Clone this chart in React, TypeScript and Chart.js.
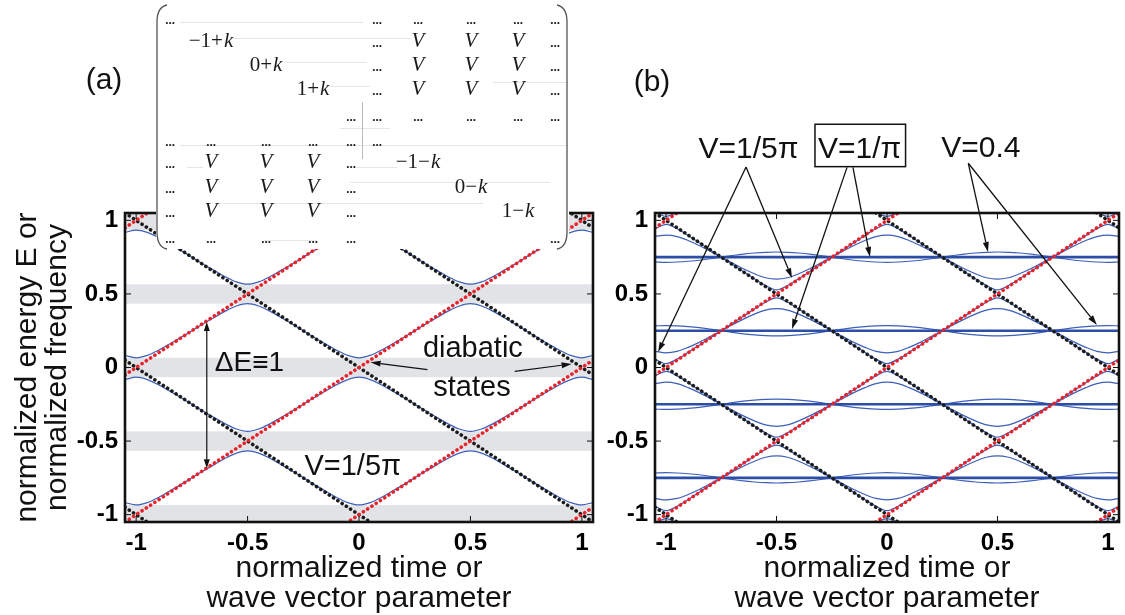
import React, { useEffect, useRef } from 'react';
import { Chart, registerables } from 'chart.js';

Chart.register(...registerables);

// ---------------- data ----------------
const kGrid = [-1.05, -1.0, -0.95, -0.9, -0.85, -0.8, -0.75, -0.7, -0.65, -0.6, -0.55, -0.5, -0.45, -0.4, -0.35, -0.3, -0.25, -0.2, -0.15, -0.1, -0.05, 0, 0.05, 0.1, 0.15, 0.2, 0.25, 0.3, 0.35, 0.4, 0.45, 0.5, 0.55, 0.6, 0.65, 0.7, 0.75, 0.8, 0.85, 0.9, 0.95, 1.0, 1.05];

// panel (a): adiabatic bands, V = 1/5pi
const bandA1 = [0.082, 0.066, 0.082, 0.117, 0.160, 0.204, 0.250, 0.296, 0.340, 0.383, 0.418, 0.434, 0.418, 0.383, 0.340, 0.296, 0.250, 0.204, 0.160, 0.117, 0.082, 0.066, 0.082, 0.117, 0.160, 0.204, 0.250, 0.296, 0.340, 0.383, 0.418, 0.434, 0.418, 0.383, 0.340, 0.296, 0.250, 0.204, 0.160, 0.117, 0.082, 0.066, 0.082];
const bandA2 = [0.918, 0.934, 0.918, 0.883, 0.840, 0.796, 0.750, 0.704, 0.660, 0.617, 0.582, 0.566, 0.582, 0.617, 0.660, 0.704, 0.750, 0.796, 0.840, 0.883, 0.918, 0.934, 0.918, 0.883, 0.840, 0.796, 0.750, 0.704, 0.660, 0.617, 0.582, 0.566, 0.582, 0.617, 0.660, 0.704, 0.750, 0.796, 0.840, 0.883, 0.918, 0.934, 0.918];
const bandA3 = [-0.082, -0.066, -0.082, -0.117, -0.160, -0.204, -0.250, -0.296, -0.340, -0.383, -0.418, -0.434, -0.418, -0.383, -0.340, -0.296, -0.250, -0.204, -0.160, -0.117, -0.082, -0.066, -0.082, -0.117, -0.160, -0.204, -0.250, -0.296, -0.340, -0.383, -0.418, -0.434, -0.418, -0.383, -0.340, -0.296, -0.250, -0.204, -0.160, -0.117, -0.082, -0.066, -0.082];
const bandA4 = [-0.918, -0.934, -0.918, -0.883, -0.840, -0.796, -0.750, -0.704, -0.660, -0.617, -0.582, -0.566, -0.582, -0.617, -0.660, -0.704, -0.750, -0.796, -0.840, -0.883, -0.918, -0.934, -0.918, -0.883, -0.840, -0.796, -0.750, -0.704, -0.660, -0.617, -0.582, -0.566, -0.582, -0.617, -0.660, -0.704, -0.750, -0.796, -0.840, -0.883, -0.918, -0.934, -0.918];
const gapBandsA = [[0.934, 1.05], [0.434, 0.566], [-0.066, 0.066], [-0.566, -0.434], [-1.05, -0.934]];

// panel (b): outer bands
const outerB1 = [0.110, 0.100, 0.110, 0.137, 0.171, 0.210, 0.250, 0.290, 0.329, 0.363, 0.390, 0.400, 0.390, 0.363, 0.329, 0.290, 0.250, 0.210, 0.171, 0.137, 0.110, 0.100, 0.110, 0.137, 0.171, 0.210, 0.250, 0.290, 0.329, 0.363, 0.390, 0.400, 0.390, 0.363, 0.329, 0.290, 0.250, 0.210, 0.171, 0.137, 0.110, 0.100, 0.110];
const outerB2 = [0.890, 0.900, 0.890, 0.863, 0.829, 0.790, 0.750, 0.710, 0.671, 0.637, 0.610, 0.600, 0.610, 0.637, 0.671, 0.710, 0.750, 0.790, 0.829, 0.863, 0.890, 0.900, 0.890, 0.863, 0.829, 0.790, 0.750, 0.710, 0.671, 0.637, 0.610, 0.600, 0.610, 0.637, 0.671, 0.710, 0.750, 0.790, 0.829, 0.863, 0.890, 0.900, 0.890];
const outerB3 = [-0.110, -0.100, -0.110, -0.137, -0.171, -0.210, -0.250, -0.290, -0.329, -0.363, -0.390, -0.400, -0.390, -0.363, -0.329, -0.290, -0.250, -0.210, -0.171, -0.137, -0.110, -0.100, -0.110, -0.137, -0.171, -0.210, -0.250, -0.290, -0.329, -0.363, -0.390, -0.400, -0.390, -0.363, -0.329, -0.290, -0.250, -0.210, -0.171, -0.137, -0.110, -0.100, -0.110];
const outerB4 = [-0.890, -0.900, -0.890, -0.863, -0.829, -0.790, -0.750, -0.710, -0.671, -0.637, -0.610, -0.600, -0.610, -0.637, -0.671, -0.710, -0.750, -0.790, -0.829, -0.863, -0.890, -0.900, -0.890, -0.863, -0.829, -0.790, -0.750, -0.710, -0.671, -0.637, -0.610, -0.600, -0.610, -0.637, -0.671, -0.710, -0.750, -0.790, -0.829, -0.863, -0.890, -0.900, -0.890];
// panel (b): inner bands
const innerB1 = [0.057, 0.027, 0.057, 0.103, 0.152, 0.201, 0.250, 0.299, 0.348, 0.397, 0.443, 0.473, 0.443, 0.397, 0.348, 0.299, 0.250, 0.201, 0.152, 0.103, 0.057, 0.027, 0.057, 0.103, 0.152, 0.201, 0.250, 0.299, 0.348, 0.397, 0.443, 0.473, 0.443, 0.397, 0.348, 0.299, 0.250, 0.201, 0.152, 0.103, 0.057, 0.027, 0.057];
const innerB2 = [0.943, 0.973, 0.943, 0.897, 0.848, 0.799, 0.750, 0.701, 0.652, 0.603, 0.557, 0.527, 0.557, 0.603, 0.652, 0.701, 0.750, 0.799, 0.848, 0.897, 0.943, 0.973, 0.943, 0.897, 0.848, 0.799, 0.750, 0.701, 0.652, 0.603, 0.557, 0.527, 0.557, 0.603, 0.652, 0.701, 0.750, 0.799, 0.848, 0.897, 0.943, 0.973, 0.943];
const innerB3 = [-0.057, -0.027, -0.057, -0.103, -0.152, -0.201, -0.250, -0.299, -0.348, -0.397, -0.443, -0.473, -0.443, -0.397, -0.348, -0.299, -0.250, -0.201, -0.152, -0.103, -0.057, -0.027, -0.057, -0.103, -0.152, -0.201, -0.250, -0.299, -0.348, -0.397, -0.443, -0.473, -0.443, -0.397, -0.348, -0.299, -0.250, -0.201, -0.152, -0.103, -0.057, -0.027, -0.057];
const innerB4 = [-0.943, -0.973, -0.943, -0.897, -0.848, -0.799, -0.750, -0.701, -0.652, -0.603, -0.557, -0.527, -0.557, -0.603, -0.652, -0.701, -0.750, -0.799, -0.848, -0.897, -0.943, -0.973, -0.943, -0.897, -0.848, -0.799, -0.750, -0.701, -0.652, -0.603, -0.557, -0.527, -0.557, -0.603, -0.652, -0.701, -0.750, -0.799, -0.848, -0.897, -0.943, -0.973, -0.943];
const innerB5 = [1.057, 1.027, 1.057, 1.103, 1.152, 1.201, 1.250, 1.299, 1.348, 1.397, 1.443, 1.473, 1.443, 1.397, 1.348, 1.299, 1.250, 1.201, 1.152, 1.103, 1.057, 1.027, 1.057, 1.103, 1.152, 1.201, 1.250, 1.299, 1.348, 1.397, 1.443, 1.473, 1.443, 1.397, 1.348, 1.299, 1.250, 1.201, 1.152, 1.103, 1.057, 1.027, 1.057];
const innerB6 = [-1.057, -1.027, -1.057, -1.103, -1.152, -1.201, -1.250, -1.299, -1.348, -1.397, -1.443, -1.473, -1.443, -1.397, -1.348, -1.299, -1.250, -1.201, -1.152, -1.103, -1.057, -1.027, -1.057, -1.103, -1.152, -1.201, -1.250, -1.299, -1.348, -1.397, -1.443, -1.473, -1.443, -1.397, -1.348, -1.299, -1.250, -1.201, -1.152, -1.103, -1.057, -1.027, -1.057];
// panel (b): wavy curves, V = 0.4
const wavyB1 = [0.717, 0.715, 0.717, 0.722, 0.729, 0.739, 0.750, 0.761, 0.771, 0.778, 0.783, 0.785, 0.783, 0.778, 0.771, 0.761, 0.750, 0.739, 0.729, 0.722, 0.717, 0.715, 0.717, 0.722, 0.729, 0.739, 0.750, 0.761, 0.771, 0.778, 0.783, 0.785, 0.783, 0.778, 0.771, 0.761, 0.750, 0.739, 0.729, 0.722, 0.717, 0.715, 0.717];
const wavyB2 = [0.283, 0.285, 0.283, 0.278, 0.271, 0.261, 0.250, 0.239, 0.229, 0.222, 0.217, 0.215, 0.217, 0.222, 0.229, 0.239, 0.250, 0.261, 0.271, 0.278, 0.283, 0.285, 0.283, 0.278, 0.271, 0.261, 0.250, 0.239, 0.229, 0.222, 0.217, 0.215, 0.217, 0.222, 0.229, 0.239, 0.250, 0.261, 0.271, 0.278, 0.283, 0.285, 0.283];
const wavyB3 = [-0.283, -0.285, -0.283, -0.278, -0.271, -0.261, -0.250, -0.239, -0.229, -0.222, -0.217, -0.215, -0.217, -0.222, -0.229, -0.239, -0.250, -0.261, -0.271, -0.278, -0.283, -0.285, -0.283, -0.278, -0.271, -0.261, -0.250, -0.239, -0.229, -0.222, -0.217, -0.215, -0.217, -0.222, -0.229, -0.239, -0.250, -0.261, -0.271, -0.278, -0.283, -0.285, -0.283];
const wavyB4 = [-0.717, -0.715, -0.717, -0.722, -0.729, -0.739, -0.750, -0.761, -0.771, -0.778, -0.783, -0.785, -0.783, -0.778, -0.771, -0.761, -0.750, -0.739, -0.729, -0.722, -0.717, -0.715, -0.717, -0.722, -0.729, -0.739, -0.750, -0.761, -0.771, -0.778, -0.783, -0.785, -0.783, -0.778, -0.771, -0.761, -0.750, -0.739, -0.729, -0.722, -0.717, -0.715, -0.717];
// panel (b): flat bands, V = 1/pi
const flatLevels = [0.75, 0.25, -0.25, -0.75];

// diabatic states (straight lines), energies at k = -1.05 and k = 1.05
const diabaticEnds = [-1.05, 1.05];
const redLines = [[-3.05, -0.95], [-2.05, 0.05], [-1.05, 1.05], [-0.05, 2.05], [0.95, 3.05]];
const blackLines = [[-0.95, -3.05], [0.05, -2.05], [1.05, -1.05], [2.05, -0.05], [3.05, 0.95]];

// axes
const xTicks = [-1, -0.5, 0, 0.5, 1];
const xTickLabels = ['-1', '-0.5', '0', '0.5', '1'];
const yTicks = [-1, -0.5, 0, 0.5, 1];
const yTickLabels = ['-1', '-0.5', '0', '0.5', '1'];
const xTitleLines = ['normalized time or', 'wave vector parameter'];
const yTitleLines = ['normalized energy E or', 'normalized frequency'];

// ---------------- styling ----------------
const SANS = '"Liberation Sans", Arial, Helvetica, sans-serif';
const SERIF = '"Liberation Serif", "Times New Roman", serif';
const BLUE_THIN = '#3d5fb8';
const BLUE_THICK = '#2c4ea6';
const RED = '#e8232b';
const BLACK_DOT = '#1c1c1c';
const GAP_GRAY = '#e2e3e6';
const INK = '#111';

const pts = (ys: number[]) => kGrid.map((k, i) => ({ x: k, y: ys[i] }));
const endPts = (e: number[]) => diabaticEnds.map((k, i) => ({ x: k, y: e[i] }));

function dottedSet(e: number[], color: string) {
  return { data: endPts(e), borderColor: color, borderWidth: 3.6, borderDash: [0.1, 5.0], borderCapStyle: 'round', pointRadius: 0, clip: 0 };
}
function thinSet(ys: number[]) {
  return { data: pts(ys), borderColor: BLUE_THIN, borderWidth: 1.2, pointRadius: 0, cubicInterpolationMode: 'monotone', clip: 0 };
}
function flatSet(level: number) {
  return { data: diabaticEnds.map((k) => ({ x: k, y: level })), borderColor: BLUE_THICK, borderWidth: 2.6, pointRadius: 0, clip: 0 };
}

function arrowTo(ctx: any, x1: number, y1: number, x2: number, y2: number, head = 10, half = 3) {
  const ang = Math.atan2(y2 - y1, x2 - x1);
  const bx = x2 - head * Math.cos(ang);
  const by = y2 - head * Math.sin(ang);
  ctx.beginPath(); ctx.moveTo(x1, y1); ctx.lineTo(bx, by); ctx.stroke();
  ctx.beginPath(); ctx.moveTo(x2, y2);
  ctx.lineTo(bx + half * Math.sin(ang), by - half * Math.cos(ang));
  ctx.lineTo(bx - half * Math.sin(ang), by + half * Math.cos(ang));
  ctx.closePath(); ctx.fill();
}

function drawFrame(chart: any) {
  const { ctx, chartArea: a, scales } = chart;
  const x = scales.x, y = scales.y;
  ctx.save();
  ctx.strokeStyle = INK;
  ctx.lineWidth = 1;
  const seg = (x1: number, y1: number, x2: number, y2: number) => { ctx.beginPath(); ctx.moveTo(x1, y1); ctx.lineTo(x2, y2); ctx.stroke(); };
  for (const v of xTicks) {
    const p = x.getPixelForValue(v);
    seg(p, a.bottom, p, a.bottom - 6);
    seg(p, a.top, p, a.top + 6);
  }
  for (const v of yTicks) {
    const p = y.getPixelForValue(v);
    seg(a.left, p, a.left + 6, p);
    seg(a.right, p, a.right - 6, p);
  }
  ctx.lineWidth = 2.6;
  ctx.strokeRect(a.left, a.top, a.right - a.left, a.bottom - a.top);
  ctx.restore();
}

// ---------------- inset matrix (panel a) ----------------
const insetRowsY = [24, 47, 71, 95, 121, 146, 168, 193, 217, 243];
const insetColsX = [170, 211, 266, 313, 351, 377, 418, 471, 518, 555];
const D = '…';
const insetCells: [number, number, string][] = [
  [0, 0, D], [0, 5, D], [0, 6, D], [0, 7, D], [0, 8, D], [0, 9, D],
  [1, 1, '−1+k'], [1, 5, D], [1, 6, 'V'], [1, 7, 'V'], [1, 8, 'V'], [1, 9, D],
  [2, 2, '0+k'], [2, 5, D], [2, 6, 'V'], [2, 7, 'V'], [2, 8, 'V'], [2, 9, D],
  [3, 3, '1+k'], [3, 5, D], [3, 6, 'V'], [3, 7, 'V'], [3, 8, 'V'], [3, 9, D],
  [4, 4, D], [4, 5, D], [4, 6, D], [4, 7, D], [4, 8, D], [4, 9, D],
  [5, 0, D], [5, 1, D], [5, 2, D], [5, 3, D], [5, 4, D], [5, 5, D],
  [6, 0, D], [6, 1, 'V'], [6, 2, 'V'], [6, 3, 'V'], [6, 4, D], [6, 6, '−1−k'],
  [7, 0, D], [7, 1, 'V'], [7, 2, 'V'], [7, 3, 'V'], [7, 4, D], [7, 7, '0−k'],
  [8, 0, D], [8, 1, 'V'], [8, 2, 'V'], [8, 3, 'V'], [8, 4, D], [8, 8, '1−k'],
  [9, 0, D], [9, 1, D], [9, 2, D], [9, 3, D], [9, 4, D], [9, 9, D],
];
const insetRules = [[180, 363, 22], [233, 410, 38], [283, 367, 62], [493, 568, 82], [330, 370, 86], [340, 390, 128], [180, 566, 145], [187, 203, 167], [357, 397, 167], [350, 550, 182], [217, 483, 203], [263, 317, 240]];

function drawInset(ctx: any) {
  ctx.save();
  ctx.fillStyle = '#fff';
  ctx.fillRect(156, 0, 413, 249);
  ctx.strokeStyle = '#e6e6e6';
  ctx.lineWidth = 1;
  for (const [x1, x2, yy] of insetRules) {
    ctx.beginPath(); ctx.moveTo(x1, yy + 0.5); ctx.lineTo(x2, yy + 0.5); ctx.stroke();
  }
  ctx.strokeStyle = '#bbb';
  ctx.beginPath(); ctx.moveTo(362.5, 102); ctx.lineTo(362.5, 159); ctx.stroke();
  ctx.strokeStyle = '#555';
  ctx.lineWidth = 1.3;
  ctx.beginPath();
  ctx.moveTo(167, 5); ctx.quadraticCurveTo(157, 7, 157, 22); ctx.lineTo(157, 232); ctx.quadraticCurveTo(157, 247, 167, 249);
  ctx.stroke();
  ctx.beginPath();
  ctx.moveTo(557, 5); ctx.quadraticCurveTo(567, 7, 567, 22); ctx.lineTo(567, 232); ctx.quadraticCurveTo(567, 247, 557, 249);
  ctx.stroke();
  ctx.fillStyle = '#1a1a1a';
  ctx.textBaseline = 'alphabetic';
  for (const [r, c, t] of insetCells) {
    const cx = insetColsX[c];
    const by = insetRowsY[r];
    if (t === D) {
      ctx.font = `bold 13px ${SERIF}`;
      ctx.textAlign = 'center';
      ctx.fillText('...', cx, by);
    } else if (t === 'V') {
      ctx.font = `italic 21px ${SERIF}`;
      ctx.textAlign = 'center';
      ctx.fillText('V', cx, by);
    } else {
      const pre = t.slice(0, -1);
      ctx.font = `21px ${SERIF}`;
      const w1 = ctx.measureText(pre).width;
      ctx.font = `italic 21px ${SERIF}`;
      const w2 = ctx.measureText('k').width;
      const x0 = cx - (w1 + w2 + 1) / 2;
      ctx.textAlign = 'left';
      ctx.font = `21px ${SERIF}`;
      ctx.fillText(pre, x0, by);
      ctx.font = `italic 21px ${SERIF}`;
      ctx.fillText('k', x0 + w1 + 1, by);
    }
  }
  ctx.restore();
}

// ---------------- scales ----------------
function tickCb(ticks: number[], labels: string[]) {
  return (value: any) => {
    const i = ticks.indexOf(Number(value));
    return i >= 0 ? labels[i] : '';
  };
}

function makeScales(yWidth: number, withYTitle: boolean) {
  const tickFont = { family: SANS, size: 24, weight: 'bold' };
  return {
    x: {
      type: 'linear', min: -1.05, max: 1.05,
      afterBuildTicks: (s: any) => { s.ticks = xTicks.map((v) => ({ value: v })); },
      afterFit: (s: any) => { s.height = 93; s.paddingLeft = 0; s.paddingRight = 0; },
      grid: { display: false, drawTicks: false },
      border: { display: false },
      ticks: { autoSkip: false, maxRotation: 0, minRotation: 0, padding: 7, color: '#000', font: tickFont, callback: tickCb(xTicks, xTickLabels) },
      title: { display: true, text: xTitleLines, color: INK, font: { family: SANS, size: 30, lineHeight: 1 }, padding: { top: 0, bottom: 1 } },
    },
    y: {
      type: 'linear', min: -1.05, max: 1.05,
      afterBuildTicks: (s: any) => { s.ticks = yTicks.map((v) => ({ value: v })); },
      afterFit: (s: any) => { s.width = yWidth; s.paddingTop = 0; s.paddingBottom = 0; },
      grid: { display: false, drawTicks: false },
      border: { display: false },
      ticks: { autoSkip: false, padding: 7, color: '#000', font: tickFont, callback: tickCb(yTicks, yTickLabels) },
      title: withYTitle
        ? { display: true, text: yTitleLines, color: INK, font: { family: SANS, size: 30, lineHeight: 1 }, padding: { top: 13, bottom: 0 } }
        : { display: false },
    },
  };
}

// ---------------- plugins ----------------
const panelAPlugin = {
  id: 'panelA',
  beforeDatasetsDraw(chart: any) {
    const { ctx, chartArea: a } = chart;
    const y = chart.scales.y;
    ctx.save();
    ctx.fillStyle = GAP_GRAY;
    for (const [lo, hi] of gapBandsA) {
      const y1 = Math.max(a.top, y.getPixelForValue(hi));
      const y2 = Math.min(a.bottom, y.getPixelForValue(lo));
      ctx.fillRect(a.left, y1, a.right - a.left, y2 - y1);
    }
    ctx.restore();
  },
  afterDatasetsDraw(chart: any) {
    drawFrame(chart);
    const { ctx } = chart;
    const X = (k: number) => chart.scales.x.getPixelForValue(k);
    const Y = (e: number) => chart.scales.y.getPixelForValue(e);
    ctx.save();
    ctx.strokeStyle = INK; ctx.fillStyle = INK; ctx.lineWidth = 1.2;
    const ax = X(-0.683);
    arrowTo(ctx, ax, Y(-0.2), ax, Y(0.31), 9, 3);
    arrowTo(ctx, ax, Y(-0.2), ax, Y(-0.685), 9, 3);
    arrowTo(ctx, X(0.307), Y(-0.015), X(0.052), Y(0.035), 10, 3);
    arrowTo(ctx, X(0.699), Y(-0.026), X(0.954), Y(0.024), 10, 3);
    ctx.textBaseline = 'alphabetic';
    ctx.font = `28px ${SANS}`;
    ctx.textAlign = 'left';
    ctx.fillText('ΔE≡1', X(-0.647), Y(-0.024));
    ctx.font = `29px ${SANS}`;
    ctx.textAlign = 'center';
    ctx.fillText('diabatic', X(0.511), Y(0.071));
    ctx.fillText('states', X(0.507), Y(-0.194));
    ctx.fillText('V=1/5π', X(-0.028), Y(-0.73));
    ctx.restore();
  },
  afterDraw(chart: any) {
    const { ctx } = chart;
    drawInset(ctx);
    ctx.save();
    ctx.fillStyle = INK;
    ctx.font = `30px ${SANS}`;
    ctx.textAlign = 'center';
    ctx.textBaseline = 'middle';
    ctx.fillText('(a)', 104, 81);
    ctx.restore();
  },
};

const panelBPlugin = {
  id: 'panelB',
  afterDatasetsDraw(chart: any) {
    drawFrame(chart);
  },
  afterDraw(chart: any) {
    const { ctx } = chart;
    const X = (k: number) => chart.scales.x.getPixelForValue(k);
    const Y = (e: number) => chart.scales.y.getPixelForValue(e);
    ctx.save();
    ctx.strokeStyle = INK; ctx.fillStyle = INK; ctx.lineWidth = 1.3;
    arrowTo(ctx, X(-0.638), Y(1.363), X(-1.036), Y(0.105));
    arrowTo(ctx, X(-0.638), Y(1.363), X(-0.43), Y(0.608));
    arrowTo(ctx, X(-0.181), Y(1.36), X(-0.43), Y(0.262));
    arrowTo(ctx, X(-0.154), Y(1.36), X(-0.077), Y(0.751));
    arrowTo(ctx, X(0.368), Y(1.388), X(0.457), Y(0.785));
    arrowTo(ctx, X(0.368), Y(1.388), X(0.95), Y(0.289));
    ctx.lineWidth = 1.5;
    ctx.strokeRect(X(-0.326), Y(1.653), X(0.084) - X(-0.326), Y(1.365) - Y(1.653));
    ctx.font = `30px ${SANS}`;
    ctx.textAlign = 'center';
    ctx.textBaseline = 'alphabetic';
    ctx.fillText('V=1/5π', X(-0.627), Y(1.424));
    ctx.fillText('V=1/π', X(-0.124), Y(1.424));
    ctx.fillText('V=0.4', X(0.425), Y(1.429));
    ctx.textBaseline = 'middle';
    ctx.fillText('(b)', 52, 83);
    ctx.restore();
  },
};

// ---------------- configs ----------------
function diabaticSets() {
  return [
    ...redLines.map((e) => dottedSet(e, RED)),
    ...blackLines.map((e) => dottedSet(e, BLACK_DOT)),
  ];
}

function baseOptions(padRight: number, yWidth: number, withYTitle: boolean) {
  return {
    responsive: false,
    animation: false,
    events: [],
    layout: { padding: { top: 213, right: padRight, left: 0, bottom: 0 } },
    plugins: { legend: { display: false }, tooltip: { enabled: false }, title: { display: false } },
    scales: makeScales(yWidth, withYTitle),
  };
}

export default function App() {
  const refA = useRef<HTMLCanvasElement>(null);
  const refB = useRef<HTMLCanvasElement>(null);

  useEffect(() => {
    const chartA = new Chart(refA.current as HTMLCanvasElement, {
      type: 'line',
      data: {
        datasets: [
          ...diabaticSets(),
          thinSet(bandA1), thinSet(bandA2), thinSet(bandA3), thinSet(bandA4),
        ],
      },
      options: baseOptions(7, 125, true),
      plugins: [panelAPlugin],
    } as any);
    const chartB = new Chart(refB.current as HTMLCanvasElement, {
      type: 'line',
      data: {
        datasets: [
          ...diabaticSets(),
          ...flatLevels.map((l) => flatSet(l)),
          thinSet(outerB1), thinSet(outerB2), thinSet(outerB3), thinSet(outerB4),
          thinSet(innerB1), thinSet(innerB2), thinSet(innerB3), thinSet(innerB4), thinSet(innerB5), thinSet(innerB6),
          thinSet(wavyB1), thinSet(wavyB2), thinSet(wavyB3), thinSet(wavyB4),
        ],
      },
      options: baseOptions(6, 55, false),
      plugins: [panelBPlugin],
    } as any);
    return () => { chartA.destroy(); chartB.destroy(); };
  }, []);

  return (
    <div style={{ position: 'fixed', left: 0, top: 0, width: 1125, height: 615, background: '#fff', overflow: 'hidden' }}>
      <canvas ref={refA} width={600} height={615} style={{ position: 'absolute', left: 0, top: 0, width: 600, height: 615 }} />
      <canvas ref={refB} width={525} height={615} style={{ position: 'absolute', left: 600, top: 0, width: 525, height: 615 }} />
    </div>
  );
}
